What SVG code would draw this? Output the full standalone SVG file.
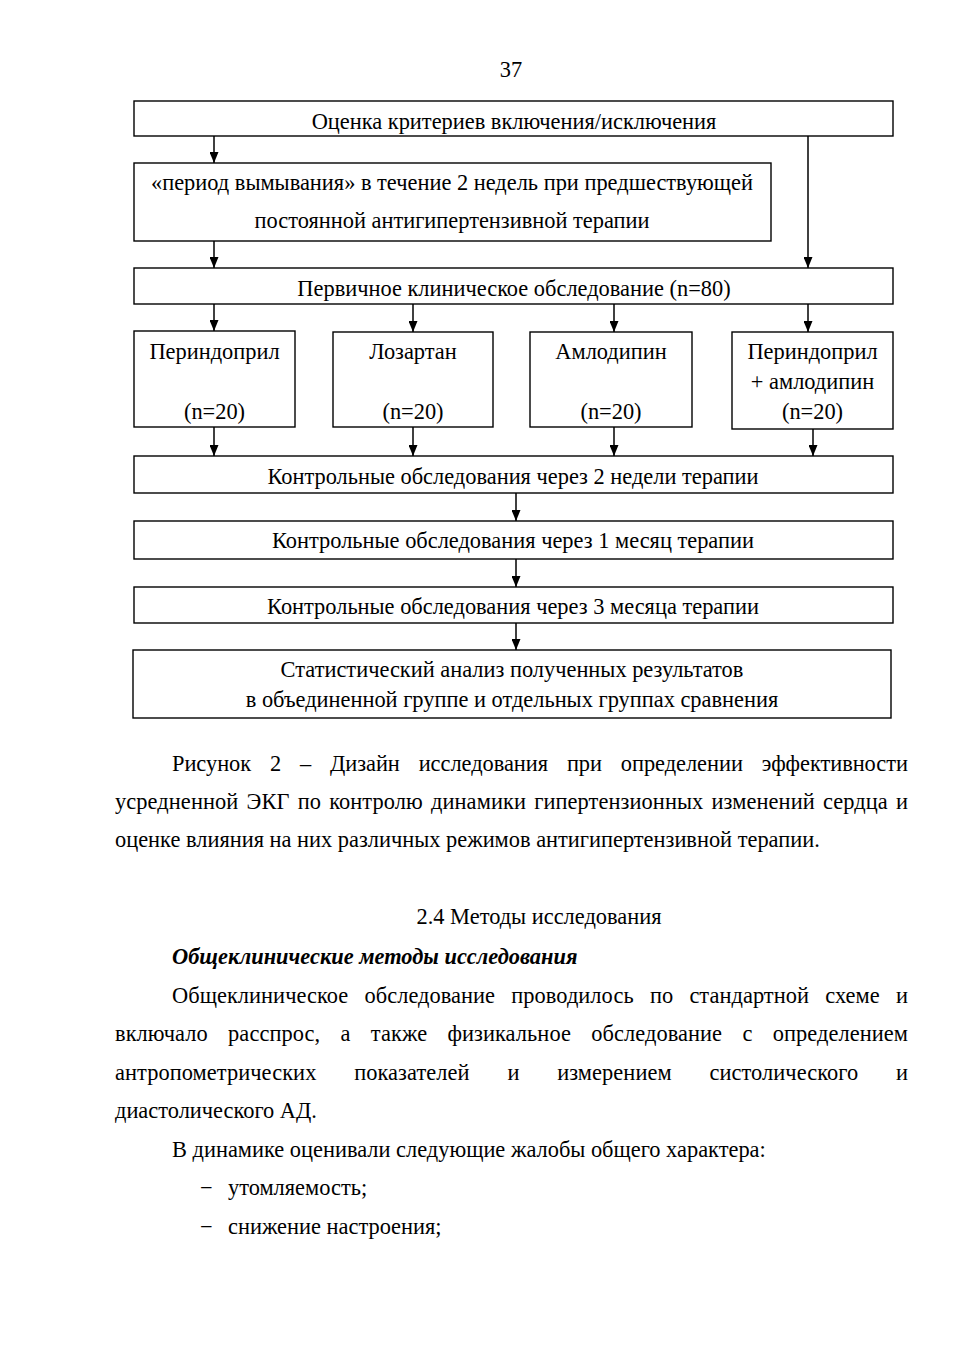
<svg xmlns="http://www.w3.org/2000/svg" width="954" height="1350" viewBox="0 0 954 1350">
<style>
text{font-family:"Liberation Serif","Times New Roman",serif;fill:#000}
.b{font-size:22.4px;text-anchor:middle}
.p{font-size:22.4px}
.box{fill:#fff;stroke:#000;stroke-width:1.4}
.c line{stroke:#000;stroke-width:1.5}
</style>
<defs>
<marker id="ah" markerWidth="9" markerHeight="11" refX="4.5" refY="11" orient="0" markerUnits="userSpaceOnUse" viewBox="0 0 9 11">
<path d="M0,0 L9,0 L4.5,11 z" fill="#000"/>
</marker>
</defs>
<rect width="954" height="1350" fill="#fff"/>
<text class="p" x="511" y="77" text-anchor="middle">37</text>

<g class="c" id="connectors">
<line x1="214" y1="136" x2="214" y2="163" marker-end="url(#ah)"/>
<line x1="808" y1="136" x2="808" y2="268" marker-end="url(#ah)"/>
<line x1="214" y1="241" x2="214" y2="268" marker-end="url(#ah)"/>
<line x1="214" y1="304" x2="214" y2="331" marker-end="url(#ah)"/>
<line x1="413" y1="304" x2="413" y2="332" marker-end="url(#ah)"/>
<line x1="614" y1="304" x2="614" y2="332" marker-end="url(#ah)"/>
<line x1="808" y1="304" x2="808" y2="332" marker-end="url(#ah)"/>
<line x1="214" y1="427" x2="214" y2="456" marker-end="url(#ah)"/>
<line x1="413" y1="427" x2="413" y2="456" marker-end="url(#ah)"/>
<line x1="614" y1="427" x2="614" y2="456" marker-end="url(#ah)"/>
<line x1="813" y1="429" x2="813" y2="456" marker-end="url(#ah)"/>
<line x1="516" y1="493" x2="516" y2="521" marker-end="url(#ah)"/>
<line x1="516" y1="559" x2="516" y2="587" marker-end="url(#ah)"/>
<line x1="516" y1="623" x2="516" y2="650" marker-end="url(#ah)"/>
</g>

<g id="n1"><rect class="box" x="134" y="101" width="759" height="35"/><text class="b" x="514" y="129">Оценка критериев включения/исключения</text></g>
<g id="n2"><rect class="box" x="134" y="163" width="637" height="78"/><text class="b" x="452" y="190">«период вымывания» в течение 2 недель при предшествующей</text><text class="b" x="452" y="228">постоянной антигипертензивной терапии</text></g>
<g id="n3"><rect class="box" x="134" y="268" width="759" height="36"/><text class="b" x="514" y="296">Первичное клиническое обследование (n=80)</text></g>
<g id="n4"><rect class="box" x="134" y="331" width="161" height="96"/><text class="b" x="214.5" y="359">Периндоприл</text><text class="b" x="214.5" y="419">(n=20)</text></g>
<g id="n5"><rect class="box" x="333" y="332" width="160" height="95"/><text class="b" x="413" y="359">Лозартан</text><text class="b" x="413" y="419">(n=20)</text></g>
<g id="n6"><rect class="box" x="530" y="332" width="162" height="95"/><text class="b" x="611" y="359">Амлодипин</text><text class="b" x="611" y="419">(n=20)</text></g>
<g id="n7"><rect class="box" x="732" y="332" width="161" height="97"/><text class="b" x="812.5" y="359">Периндоприл</text><text class="b" x="812.5" y="389">+ амлодипин</text><text class="b" x="812.5" y="419">(n=20)</text></g>
<g id="n8"><rect class="box" x="134" y="456" width="759" height="37"/><text class="b" x="513" y="484">Контрольные обследования через 2 недели терапии</text></g>
<g id="n9"><rect class="box" x="134" y="521" width="759" height="38"/><text class="b" x="513" y="548">Контрольные обследования через 1 месяц терапии</text></g>
<g id="n10"><rect class="box" x="134" y="587" width="759" height="36"/><text class="b" x="513" y="614">Контрольные обследования через 3 месяца терапии</text></g>
<g id="n11"><rect class="box" x="133" y="650" width="758" height="68"/><text class="b" x="512" y="677">Статистический анализ полученных результатов</text><text class="b" x="512" y="707">в объединенной группе и отдельных группах сравнения</text></g>

<g id="caption" class="p">
<text x="172" y="771" word-spacing="13.3" textLength="736" lengthAdjust="spacing">Рисунок 2 – Дизайн исследования при определении эффективности</text>
<text x="115" y="809" word-spacing="2.5" textLength="793" lengthAdjust="spacing">усредненной ЭКГ по контролю динамики гипертензионных изменений сердца и</text>
<text x="115" y="847">оценке влияния на них различных режимов антигипертензивной терапии.</text>
</g>

<g id="body" class="p">
<text x="539" y="924" text-anchor="middle">2.4 Методы исследования</text>
<text x="172" y="964" font-weight="bold" font-style="italic">Общеклинические методы исследования</text>
<text x="172" y="1002.5" word-spacing="10.6" textLength="736" lengthAdjust="spacing">Общеклиническое обследование проводилось по стандартной схеме и</text>
<text x="115" y="1041" word-spacing="14.6" textLength="793" lengthAdjust="spacing">включало расспрос, а также физикальное обследование с определением</text>
<text x="115" y="1079.5" word-spacing="32.1" textLength="793" lengthAdjust="spacing">антропометрических показателей и измерением систолического и</text>
<text x="115" y="1118">диастолического АД.</text>
<text x="172" y="1156.5">В динамике оценивали следующие жалобы общего характера:</text>
<text x="200" y="1195">−</text><text x="228" y="1195">утомляемость;</text>
<text x="200" y="1233.5">−</text><text x="228" y="1233.5">снижение настроения;</text>
</g>
</svg>
